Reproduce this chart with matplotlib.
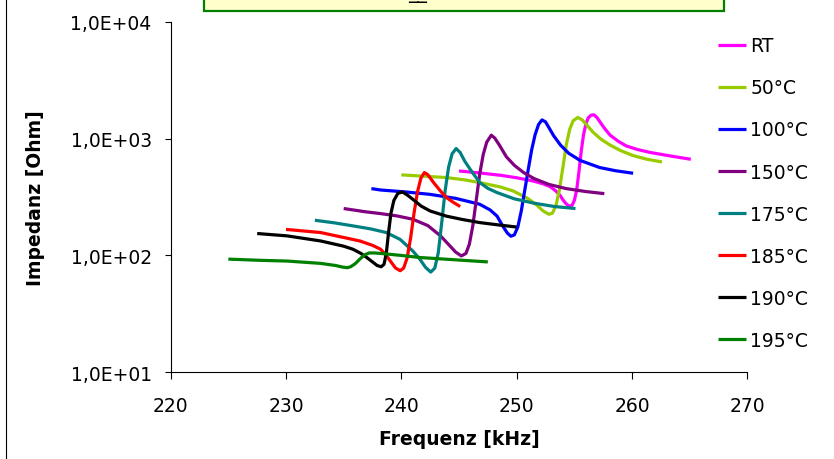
import matplotlib
matplotlib.use("Agg")
import matplotlib.pyplot as plt
from matplotlib.lines import Line2D
from matplotlib.patches import Rectangle

# Impedance spectra of the resonator at different temperatures (kHz, Ohm)
labels = ["RT", "50°C", "100°C", "150°C", "175°C", "185°C", "190°C", "195°C"]
colors = ["#FF00FF", "#99CC00", "#0000FF", "#800080", "#008080", "#FF0000", "#000000", "#008000"]

f_rt = [245.0, 246.8, 248.6, 250.0, 251.4, 252.3, 252.9, 253.4, 253.8, 254.0, 254.3, 254.55, 254.8, 255.0,
        255.2, 255.4, 255.6, 255.8, 256.0, 256.2, 256.45, 256.7, 256.95, 257.2, 257.6, 258.1, 258.8,
        259.5, 260.5, 261.6, 263.5, 265.1]
z_rt = [528, 508, 485, 462, 434, 410, 388, 356, 323, 300, 276, 264, 268, 295,
        360, 520, 780, 1080, 1330, 1500, 1585, 1596, 1520, 1400, 1230, 1070, 950,
        865, 805, 760, 705, 665]

f_50 = [240.0, 242.0, 243.9, 245.5, 246.8, 248.6, 249.7, 250.9, 251.7, 252.3, 252.8, 253.1, 253.4, 253.7,
        254.0, 254.3, 254.6, 254.9, 255.3, 255.7, 256.1, 256.6, 257.3, 258.1, 259.0, 260.1, 261.3, 262.6]
z_50 = [489, 476, 464, 443, 420, 385, 356, 310, 272, 240, 225, 230, 265, 360,
        560, 880, 1200, 1420, 1516, 1440, 1300, 1140, 990, 880, 790, 715, 665, 631]

f_100 = [237.4, 238.2, 240.3, 242.5, 244.7, 246.8, 247.7, 248.3, 248.8, 249.2, 249.5, 249.8, 250.1, 250.4,
         250.7, 251.0, 251.3, 251.6, 251.9, 252.2, 252.5, 252.8, 253.2, 253.8, 254.5, 255.5, 257.2,
         258.6, 260.1]
z_100 = [373, 363, 350, 333, 308, 274, 245, 217, 178, 155, 146, 150, 175, 240,
         360, 540, 800, 1080, 1320, 1445, 1390, 1240, 1060, 880, 750, 650, 565,
         530, 505]

f_150 = [235.0, 236.8, 238.2, 239.6, 241.0, 242.3, 243.4, 244.1, 244.7, 245.2, 245.6, 245.9, 246.2, 246.5,
         246.8, 247.1, 247.4, 247.8, 248.1, 248.5, 249.1, 249.8, 250.6, 251.5, 252.8, 254.3, 256.0, 257.6]
z_150 = [252, 237, 228, 218, 204, 180, 147, 124, 107, 99, 104, 125, 180, 300,
         500, 730, 930, 1069, 1010, 880, 700, 590, 512, 455, 405, 373, 352, 338]

f_175 = [232.5, 234.2, 235.8, 237.3, 238.7, 239.9, 241.0, 241.6, 242.1, 242.55, 242.9, 243.2, 243.5,
         243.8, 244.1, 244.4, 244.75, 245.1, 245.5, 246.0, 246.8, 247.5, 248.3, 249.8, 251.5, 253.3, 255.1]
z_175 = [200, 190, 179, 169, 157, 137, 109, 93, 79, 72, 78, 105, 190,
         360, 570, 740, 822, 760, 640, 540, 420, 375, 345, 305, 280, 262, 252]

f_185 = [230.0, 233.0, 236.4, 237.5, 238.2, 238.7, 239.1, 239.5, 239.9, 240.2, 240.5, 240.8, 241.1,
         241.4, 241.7, 242.0, 242.3, 242.8, 243.4, 243.9, 244.5, 245.1]
z_185 = [167, 157, 133, 122, 113, 100, 88, 78, 74, 78, 95, 140, 230,
         350, 460, 512, 490, 420, 355, 313, 285, 262]

f_190 = [227.5, 230.1, 233.0, 235.0, 235.8, 236.5, 237.0, 237.5, 237.9, 238.25, 238.5, 238.7, 238.9,
         239.1, 239.35, 239.7, 240.1, 240.5, 241.0, 241.7, 242.5, 243.9, 245.3, 246.8, 248.5, 250.0]
z_190 = [154, 147, 133, 120, 113, 104, 96, 88, 82, 80, 84, 105, 160,
         230, 295, 340, 349, 330, 302, 265, 240, 217, 203, 191, 182, 175]

f_195 = [225.0, 227.5, 230.1, 233.0, 234.3, 234.9, 235.3, 235.6, 236.0, 236.4, 236.8, 237.2, 237.7,
         238.2, 240.0, 241.6, 244.5, 247.5]
z_195 = [93, 91, 89.5, 85.5, 82, 79.5, 78.5, 80, 85, 93, 101, 105, 105,
         104, 100, 96, 92, 88]

series = [(f_rt, z_rt), (f_50, z_50), (f_100, z_100), (f_150, z_150),
          (f_175, z_175), (f_185, z_185), (f_190, z_190), (f_195, z_195)]

x_ticks = [220, 230, 240, 250, 260, 270]
y_ticks = [10, 100, 1000, 10000]
y_tick_labels = ["1,0E+01", "1,0E+02", "1,0E+03", "1,0E+04"]

W, H = 834, 460
fig = plt.figure(figsize=(W / 100, H / 100), dpi=100)
ax = fig.add_axes([170.7 / W, 1 - 373.3 / H, (747.3 - 170.7) / W, (373.3 - 22.7) / H])

for (f, z), lab, c in zip(series, labels, colors):
    ax.plot(f, z, color=c, lw=2.3, label=lab, solid_capstyle="butt", solid_joinstyle="round")

ax.set_yscale("log")
ax.set_xlim(220, 270)
ax.set_ylim(10, 10000)
ax.set_xticks(x_ticks)
ax.set_xticklabels([str(t) for t in x_ticks])
ax.set_yticks(y_ticks)
ax.set_yticklabels(y_tick_labels)
ax.yaxis.set_minor_locator(plt.NullLocator())

for s in ("top", "right"):
    ax.spines[s].set_visible(False)
for s in ("left", "bottom"):
    ax.spines[s].set_linewidth(0.8)
ax.tick_params(axis="y", direction="out", length=4.2, width=0.8, pad=9.5, labelsize=13.5)
ax.tick_params(axis="x", direction="out", length=4.8, width=0.8, pad=12, labelsize=13.5)

ax.set_xlabel("Frequenz [kHz]", fontsize=13.5, fontweight="bold", labelpad=10)
ax.set_ylabel("Impedanz [Ohm]", fontsize=13.5, fontweight="bold", labelpad=18)

ax.legend(loc="upper left", bbox_to_anchor=(709 / W, 1 - 28 / H), bbox_transform=fig.transFigure,
          frameon=False, fontsize=13.5, handlelength=1.45, handletextpad=0.25,
          labelspacing=1.23, borderpad=0)

# frame line on the left and the title box cut off at the top
fig.add_artist(Line2D([5.5 / W, 5.5 / W], [0, 1], color="black", lw=0.8))
fig.add_artist(Rectangle((203.5 / W, 1 - 12.3 / H), (724 - 203.5) / W, 30 / H,
                         facecolor="#FFFFCC", edgecolor="#008000", lw=1.6))
fig.text(418 / W, 1 + 2.5 / H, "__", fontsize=13.5, ha="center", va="baseline")

fig.savefig("out.png", dpi=100)
